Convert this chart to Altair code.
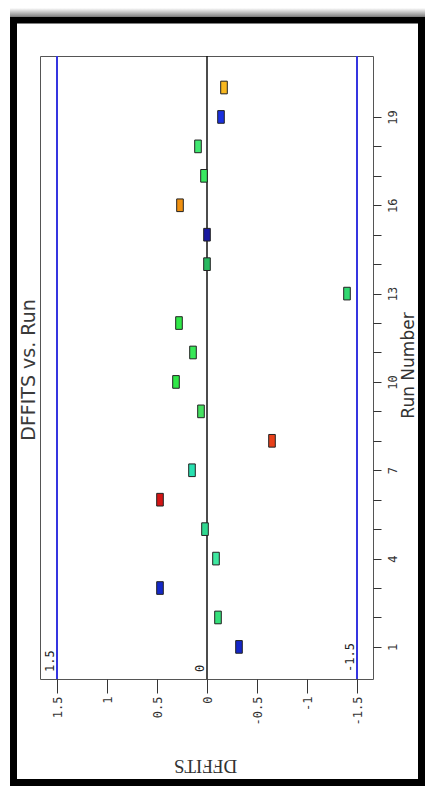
import altair as alt
import pandas as pd

# ---------------- data ----------------
runs = list(range(1, 21))
dffits = [-0.32, -0.11, 0.47, -0.09, 0.02, 0.47, 0.15, -0.65, 0.06, 0.31,
          0.14, 0.28, -1.40, 0.00, 0.00, 0.27, 0.03, 0.09, -0.14, -0.17]
point_colors = ["#1426c8", "#35e07a", "#1428c8", "#3ee8a0", "#30d890",
                "#d41414", "#28e0b0", "#e8401a", "#44e060", "#30e848",
                "#38e858", "#30e848", "#30d870", "#28b860", "#1a1aa0",
                "#f09010", "#38e860", "#40e870", "#1a30e0", "#f8b820"]
limit_values = [1.5, -1.5]
zero_value = [0.0]
ref_values = [1.5, 0.0, -1.5]
ref_labels = ["1.5", "0", "-1.5"]
x_ticks = [1.5, 1.0, 0.5, 0.0, -0.5, -1.0, -1.5]
run_ticks = list(range(1, 20))
chart_title = "DFFITS vs. Run"
x_title = "DFFITS"
y_title = "Run Number"

# ---------------- layout ----------------
W, H = 333, 623
MARK_HALF_X = 0.033   # half marker width in DFFITS units
MARK_HALF_Y = 0.215   # half marker height in run units

df = pd.DataFrame({"run": runs, "dffits": dffits, "color": point_colors})
df_lim = pd.DataFrame({"dffits": limit_values})
df_zero = pd.DataFrame({"dffits": zero_value})
df_ref = pd.DataFrame({"dffits": ref_values, "label": ref_labels})
one = pd.DataFrame({"k": [0]})

xscale = alt.Scale(domain=[-1.66, 1.67], reverse=True, nice=False, zero=False)
yscale = alt.Scale(domain=[-0.09, 21.07], nice=False, zero=False)

xaxis = alt.Axis(
    values=x_ticks, labelExpr="toString(datum.value)",
    labelAngle=270, labelAlign="right", labelBaseline="middle",
    labelFont="DejaVu Sans Mono", labelFontSize=12, labelColor="#333",
    labelPadding=3, labelOverlap=False, labelFlush=False,
    tickSize=14, tickColor="#333", domain=False, grid=False,
    title=x_title, titleAngle=180, titleX=165, titleY=86,
    titleAlign="center", titleBaseline="middle",
    titleFont="Liberation Sans Narrow", titleFontSize=19,
    titleFontWeight="normal", titleColor="#333",
)
yaxis = alt.Axis(
    orient="right", values=run_ticks,
    labelExpr="(datum.value - 1) % 3 == 0 ? toString(datum.value) : ''",
    labelAngle=270, labelAlign="center", labelBaseline="top",
    labelFont="DejaVu Sans Mono", labelFontSize=12, labelColor="#333",
    labelPadding=6, labelOverlap=False, labelFlush=False,
    tickSize=8, tickColor="#333", domain=False, grid=False,
    title=y_title, titleAngle=270, titleX=35, titleY=309,
    titleAlign="center", titleBaseline="middle",
    titleFont="DejaVu Sans", titleFontSize=17,
    titleFontWeight="normal", titleColor="#333",
)

xenc = alt.X("dffits:Q", scale=xscale, axis=xaxis)

shadow = alt.Chart(one).mark_rect(
    fill=alt.Gradient(
        gradient="linear",
        stops=[alt.GradientStop(color="#ffffff", offset=0),
               alt.GradientStop(color="#8c8c8c", offset=1)],
        x1=0, x2=0, y1=0, y2=1,
    )
).encode(x=alt.value(-30), x2=alt.value(390), y=alt.value(-48), y2=alt.value(-40))

frame = alt.Chart(one).mark_rect(
    fill="white", fillOpacity=0, stroke="black", strokeWidth=7
).encode(x=alt.value(-26.5), x2=alt.value(381.5), y=alt.value(-36), y2=alt.value(726.5))

title = alt.Chart(one).mark_text(
    text=chart_title, angle=270, align="center", baseline="middle",
    font="DejaVu Sans", fontSize=19, color="#3a3a3a"
).encode(x=alt.value(-11.5), y=alt.value(314))

limits = alt.Chart(df_lim).mark_rule(color="#3535e0", strokeWidth=2).encode(x=xenc)
zero = alt.Chart(df_zero).mark_rule(color="#111111", strokeWidth=1.5).encode(x=xenc)

ref_text = alt.Chart(df_ref).mark_text(
    angle=270, align="left", baseline="bottom",
    font="DejaVu Sans Mono", fontSize=12, color="#222"
).encode(x=xenc, y=alt.value(H - 7), text="label:N")

points = alt.Chart(df).transform_calculate(
    x_lo=f"datum.dffits - {MARK_HALF_X}", x_hi=f"datum.dffits + {MARK_HALF_X}",
    y_lo=f"datum.run - {MARK_HALF_Y}", y_hi=f"datum.run + {MARK_HALF_Y}",
).mark_rect(stroke="#222", strokeWidth=1, opacity=1).encode(
    x=alt.X("x_lo:Q", scale=xscale, axis=xaxis),
    x2="x_hi:Q",
    y=alt.Y("y_lo:Q", scale=yscale, axis=yaxis),
    y2="y_hi:Q",
    fill=alt.Fill("color:N", scale=None),
)

chart = alt.layer(shadow, frame, title, limits, zero, ref_text, points).properties(
    width=W, height=H,
    autosize=alt.AutoSizeParams(type="none"),
    padding={"left": 32, "top": 48, "right": 52, "bottom": 107},
    background="white",
).configure_view(stroke="#555", strokeWidth=1)

chart.save("out.html", embed_options={"renderer": "svg", "actions": False})
